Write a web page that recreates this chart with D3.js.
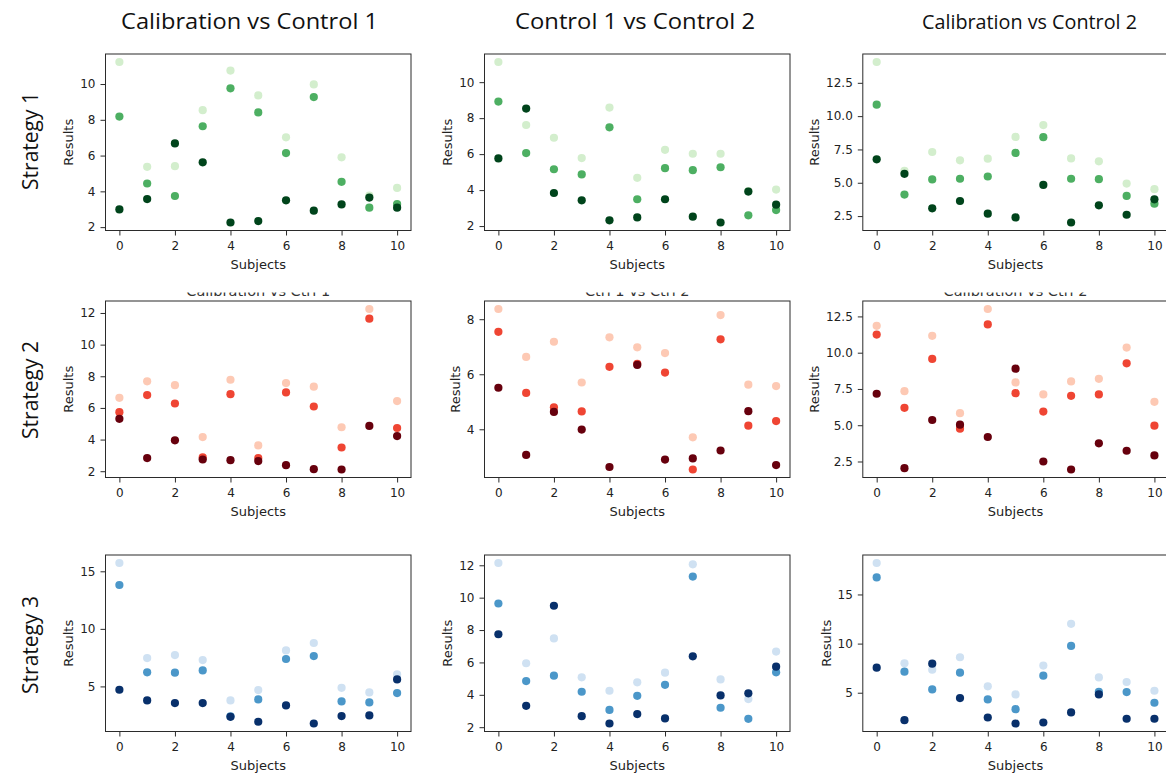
<!DOCTYPE html>
<html>
<head>
<meta charset="utf-8">
<script src="https://cdn.jsdelivr.net/npm/d3@7"></script>
<style>
  body { margin: 0; background: #fff; }
  svg { display: block; }
</style>
</head>
<body>
<svg id="chart" width="1166" height="775"></svg>
<script>
// -----------------------------
// DATA
// -----------------------------
const SUBJECTS = [0, 1, 2, 3, 4, 5, 6, 7, 8, 9, 10];
const X_TICKS = [0, 2, 4, 6, 8, 10];

const COLUMN_TITLES = ["Calibration vs Control 1", "Control 1 vs Control 2", "Calibration vs Control 2"];
const ROW_TITLES = ["Strategy 1", "Strategy 2", "Strategy 3"];
const HIDDEN_TITLES = ["Calibration vs Ctrl 1", "Ctrl 1 vs Ctrl 2", "Calibration vs Ctrl 2"];

// Strategy 1 (greens)
const S1_CAL_C1_LIGHT = [11.23, 5.37, 5.41, 8.54, 10.75, 9.36, 7.02, 9.98, 5.90, 3.76, 4.19];
const S1_CAL_C1_MID   = [8.18, 4.44, 3.74, 7.64, 9.76, 8.41, 6.14, 9.27, 4.53, 3.09, 3.29];
const S1_CAL_C1_DARK  = [2.99, 3.57, 6.68, 5.62, 2.26, 2.34, 3.50, 2.92, 3.27, 3.65, 3.09];

const S1_C1_C2_LIGHT = [11.12, 7.62, 6.91, 5.78, 8.59, 4.68, 6.24, 6.02, 6.02, 3.95, 4.03];
const S1_C1_C2_MID   = [8.92, 6.06, 5.16, 4.87, 7.49, 3.49, 5.22, 5.11, 5.27, 2.60, 2.89];
const S1_C1_C2_DARK  = [5.76, 8.53, 3.84, 3.43, 2.32, 2.48, 3.49, 2.52, 2.20, 3.92, 3.19];

const S1_CAL_C2_LIGHT = [14.06, 5.90, 7.31, 6.68, 6.81, 8.44, 9.33, 6.83, 6.61, 4.94, 4.52];
const S1_CAL_C2_MID   = [10.86, 4.11, 5.25, 5.30, 5.47, 7.24, 8.42, 5.30, 5.27, 4.01, 3.43];
const S1_CAL_C2_DARK  = [6.76, 5.67, 3.08, 3.63, 2.68, 2.40, 4.84, 2.02, 3.31, 2.60, 3.76];

// Strategy 2 (reds)
const S2_CAL_C1_LIGHT = [6.64, 7.68, 7.44, 4.16, 7.78, 3.63, 7.57, 7.34, 4.78, 12.25, 6.43];
const S2_CAL_C1_MID   = [5.73, 6.81, 6.28, 2.87, 6.87, 2.83, 6.98, 6.09, 3.50, 11.64, 4.73];
const S2_CAL_C1_DARK  = [5.31, 2.83, 3.95, 2.74, 2.70, 2.64, 2.38, 2.13, 2.11, 4.86, 4.22];

const S2_C1_C2_LIGHT = [8.37, 6.63, 7.18, 5.70, 7.34, 6.98, 6.77, 3.71, 8.15, 5.62, 5.57];
const S2_C1_C2_MID   = [7.54, 5.32, 4.80, 4.65, 6.27, 6.38, 6.06, 2.54, 7.27, 4.13, 4.30];
const S2_C1_C2_DARK  = [5.51, 3.07, 4.63, 3.99, 2.63, 6.34, 2.90, 2.94, 3.23, 4.66, 2.70];

const S2_CAL_C2_LIGHT = [11.85, 7.35, 11.16, 5.83, 13.01, 7.95, 7.12, 8.02, 8.20, 10.35, 6.61];
const S2_CAL_C2_MID   = [11.25, 6.20, 9.57, 4.76, 11.95, 7.21, 5.94, 7.03, 7.12, 9.27, 4.97];
const S2_CAL_C2_DARK  = [7.17, 2.04, 5.36, 5.04, 4.19, 8.90, 2.50, 1.95, 3.75, 3.24, 2.92];

// Strategy 3 (blues)
const S3_CAL_C1_LIGHT = [15.72, 7.46, 7.72, 7.29, 3.78, 4.68, 8.13, 8.77, 4.88, 4.48, 6.04];
const S3_CAL_C1_MID   = [13.81, 6.22, 6.19, 6.39, 2.40, 3.87, 7.38, 7.64, 3.70, 3.61, 4.42];
const S3_CAL_C1_DARK  = [4.71, 3.78, 3.55, 3.55, 2.36, 1.93, 3.35, 1.78, 2.42, 2.48, 5.61];

const S3_C1_C2_LIGHT = [12.14, 5.95, 7.48, 5.08, 4.25, 4.77, 5.37, 12.06, 4.95, 3.74, 6.67];
const S3_C1_C2_MID   = [9.64, 4.85, 5.18, 4.19, 3.07, 3.94, 4.62, 11.30, 3.20, 2.52, 5.39];
const S3_C1_C2_DARK  = [7.74, 3.32, 9.50, 2.68, 2.23, 2.81, 2.54, 6.38, 3.96, 4.09, 5.74];

const S3_CAL_C2_LIGHT = [18.20, 7.99, 7.35, 8.61, 5.65, 4.83, 7.76, 12.01, 6.56, 6.09, 5.20];
const S3_CAL_C2_MID   = [16.73, 7.14, 5.34, 7.04, 4.32, 3.33, 6.73, 9.76, 5.10, 5.07, 3.98];
const S3_CAL_C2_DARK  = [7.55, 2.21, 7.96, 4.46, 2.48, 1.87, 1.97, 2.99, 4.83, 2.35, 2.35];

// y tick values per panel
const Y_TICKS = [
  [[2, 4, 6, 8, 10], [2, 4, 6, 8, 10], [2.5, 5.0, 7.5, 10.0, 12.5]],
  [[2, 4, 6, 8, 10, 12], [4, 6, 8], [2.5, 5.0, 7.5, 10.0, 12.5]],
  [[5, 10, 15], [2, 4, 6, 8, 10, 12], [5, 10, 15]]
];
const Y_FORMATS = [
  ["d", "d", ".1f"],
  ["d", "d", ".1f"],
  ["d", "d", "d"]
];

const PANELS = [
  [[S1_CAL_C1_LIGHT, S1_CAL_C1_MID, S1_CAL_C1_DARK],
   [S1_C1_C2_LIGHT, S1_C1_C2_MID, S1_C1_C2_DARK],
   [S1_CAL_C2_LIGHT, S1_CAL_C2_MID, S1_CAL_C2_DARK]],
  [[S2_CAL_C1_LIGHT, S2_CAL_C1_MID, S2_CAL_C1_DARK],
   [S2_C1_C2_LIGHT, S2_C1_C2_MID, S2_C1_C2_DARK],
   [S2_CAL_C2_LIGHT, S2_CAL_C2_MID, S2_CAL_C2_DARK]],
  [[S3_CAL_C1_LIGHT, S3_CAL_C1_MID, S3_CAL_C1_DARK],
   [S3_C1_C2_LIGHT, S3_C1_C2_MID, S3_C1_C2_DARK],
   [S3_CAL_C2_LIGHT, S3_CAL_C2_MID, S3_CAL_C2_DARK]]
];

// -----------------------------
// LAYOUT / STYLE
// -----------------------------
const COL_X = [105.5, 484.5, 862.8];
const ROW_Y = [54, 301, 555];
const BOX_W = 305.5;
const BOX_H = 176.5;
const COL_TITLE_X = [249.5, 635, 1029.5];
const COL_TITLE_W = [257, 240, 215];
const COL_TITLE_SIZE = [22, 22, 20];
const ROW_TITLE_Y = [141, 390, 645];
const CMAPS = [d3.interpolateGreens, d3.interpolateReds, d3.interpolateBlues];
const SHADES = [0.2, 0.6, 1.0];
const TICK_FONT = "DejaVu Sans, sans-serif";
const TITLE_FONT = "'Open Sans', Lato, sans-serif";

const svg = d3.select("#chart");

// column and row headings (typed over the figure, so each has its own width)
svg.selectAll("text.col-title")
  .data(COLUMN_TITLES)
  .join("text")
  .attr("class", "col-title")
  .attr("x", (d, i) => COL_TITLE_X[i])
  .attr("y", 29)
  .attr("text-anchor", "middle")
  .attr("font-family", TITLE_FONT)
  .attr("font-size", (d, i) => COL_TITLE_SIZE[i])
  .attr("textLength", (d, i) => COL_TITLE_W[i])
  .attr("lengthAdjust", "spacingAndGlyphs")
  .attr("fill", "#111")
  .text(d => d);

svg.selectAll("text.row-title")
  .data(ROW_TITLES)
  .join("text")
  .attr("class", "row-title")
  .attr("x", 38)
  .attr("y", (d, i) => ROW_TITLE_Y[i])
  .attr("transform", (d, i) => `rotate(-90,38,${ROW_TITLE_Y[i]})`)
  .attr("text-anchor", "middle")
  .attr("font-family", TITLE_FONT)
  .attr("font-size", 21)
  .attr("fill", "#111")
  .text(d => d);

// leftover subplot titles of row 2, almost fully cut off in the source
svg.append("clipPath").attr("id", "ghost-clip")
  .append("rect").attr("x", 0).attr("y", 292.5).attr("width", 1166).attr("height", 5);

svg.append("g").attr("clip-path", "url(#ghost-clip)")
  .selectAll("text")
  .data(HIDDEN_TITLES)
  .join("text")
  .attr("x", (d, i) => COL_X[i] + BOX_W / 2)
  .attr("y", 296)
  .attr("text-anchor", "middle")
  .attr("font-family", TICK_FONT)
  .attr("font-size", 14.5)
  .attr("fill", "#333")
  .text(d => d);

// -----------------------------
// PANELS
// -----------------------------
PANELS.forEach((row, r) => {
  row.forEach((series, c) => {
    const left = COL_X[c];
    const top = ROW_Y[r];

    const x = d3.scaleLinear().domain([-0.5, 10.5]).range([left, left + BOX_W]);

    // matplotlib style autoscale: data range plus 5% each side
    const all = series.flat();
    const lo = d3.min(all), hi = d3.max(all);
    const pad = (hi - lo) * 0.05;
    const y = d3.scaleLinear().domain([lo - pad, hi + pad]).range([top + BOX_H, top]);

    const g = svg.append("g").attr("class", `panel-${r}-${c}`);

    // points: light, mid, dark (dark on top)
    series.forEach((vals, k) => {
      g.append("g")
        .selectAll("circle")
        .data(vals)
        .join("circle")
        .attr("cx", (d, i) => x(SUBJECTS[i]))
        .attr("cy", d => y(d))
        .attr("r", 4.1)
        .attr("fill", CMAPS[r](SHADES[k]));
    });

    // frame
    g.append("rect")
      .attr("x", left).attr("y", top)
      .attr("width", BOX_W).attr("height", BOX_H)
      .attr("fill", "none")
      .attr("stroke", "#2b2b2b")
      .attr("stroke-width", 1);

    // axes
    const xAxis = g.append("g")
      .attr("transform", `translate(0,${top + BOX_H})`)
      .call(d3.axisBottom(x).tickValues(X_TICKS).tickFormat(d3.format("d"))
        .tickSizeOuter(0).tickSize(5).tickPadding(6));

    const yAxis = g.append("g")
      .attr("transform", `translate(${left},0)`)
      .call(d3.axisLeft(y).tickValues(Y_TICKS[r][c]).tickFormat(d3.format(Y_FORMATS[r][c]))
        .tickSizeOuter(0).tickSize(5).tickPadding(5));

    [xAxis, yAxis].forEach(ax => {
      ax.select(".domain").remove();
      ax.selectAll("line").attr("stroke", "#2b2b2b");
      ax.selectAll("text")
        .attr("font-family", TICK_FONT)
        .attr("font-size", 12)
        .attr("fill", "#222");
    });

    // axis labels
    g.append("text")
      .attr("x", left + BOX_W / 2)
      .attr("y", top + BOX_H + 38)
      .attr("text-anchor", "middle")
      .attr("font-family", TICK_FONT)
      .attr("font-size", 13)
      .attr("fill", "#222")
      .text("Subjects");

    const tickBox = yAxis.node().getBBox();
    const lx = left + tickBox.x - 7;
    const ly = top + BOX_H / 2;
    g.append("text")
      .attr("x", lx)
      .attr("y", ly)
      .attr("transform", `rotate(-90,${lx},${ly})`)
      .attr("text-anchor", "middle")
      .attr("font-family", TICK_FONT)
      .attr("font-size", 13)
      .attr("fill", "#222")
      .text("Results");
  });
});
</script>
</body>
</html>
